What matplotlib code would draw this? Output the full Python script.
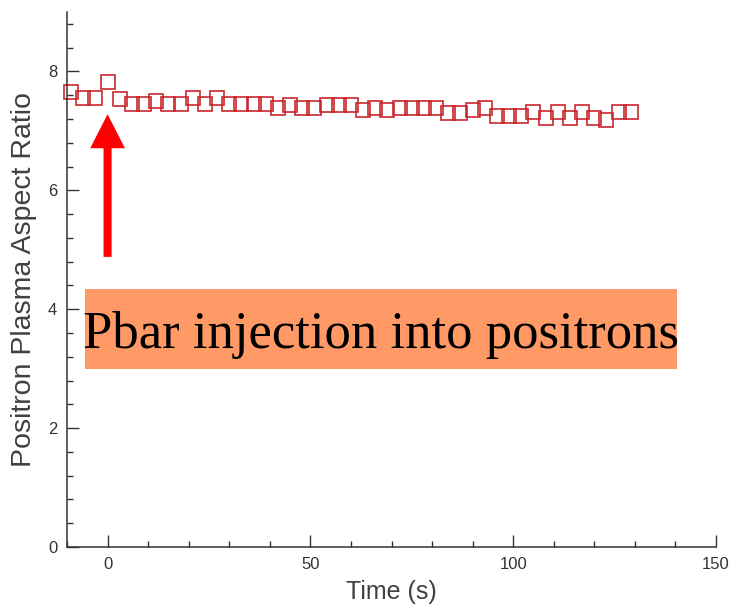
import matplotlib
matplotlib.use("Agg")
import matplotlib.pyplot as plt
from matplotlib.patches import Rectangle
from matplotlib.ticker import MultipleLocator

time_s = [-9, -6, -3, 0, 3, 6, 9, 12, 15, 18, 21, 24, 27, 30, 33, 36, 39, 42,
          45, 48, 51, 54, 57, 60, 63, 66, 69, 72, 75, 78, 81, 84, 87, 90, 93,
          96, 99, 102, 105, 108, 111, 114, 117, 120, 123, 126, 129]
aspect_ratio = [7.65, 7.55, 7.55, 7.82, 7.54, 7.45, 7.45, 7.50, 7.45, 7.45,
                7.55, 7.45, 7.55, 7.45, 7.45, 7.45, 7.45, 7.38, 7.43, 7.38,
                7.38, 7.43, 7.43, 7.43, 7.35, 7.38, 7.35, 7.38, 7.38, 7.38,
                7.38, 7.30, 7.30, 7.35, 7.38, 7.25, 7.25, 7.25, 7.31, 7.22,
                7.31, 7.22, 7.31, 7.22, 7.18, 7.31, 7.31]

label_text = "Pbar injection into positrons"
axis_col = "#333333"

fig = plt.figure(figsize=(7.34, 6.13), dpi=100)
ax = fig.add_axes([0.0913, 0.1077, 0.8842, 0.8728])

ax.plot(time_s, aspect_ratio, linestyle="none", marker="s", markersize=10.2,
        markerfacecolor="none", markeredgecolor="#c8282d", markeredgewidth=1.2,
        clip_on=False)

ax.set_xlim(-10, 150)
ax.set_ylim(0, 9)
ax.xaxis.set_major_locator(MultipleLocator(50))
ax.xaxis.set_minor_locator(MultipleLocator(10))
ax.yaxis.set_major_locator(MultipleLocator(2))
ax.yaxis.set_minor_locator(MultipleLocator(0.4))

for side in ["top", "right"]:
    ax.spines[side].set_visible(False)
for side in ["left", "bottom"]:
    ax.spines[side].set_color(axis_col)
    ax.spines[side].set_linewidth(1.1)

ax.tick_params(which="major", direction="in", length=8.5, width=1.0,
               color=axis_col, pad=7, labelsize=12, labelcolor=axis_col)
ax.tick_params(which="minor", direction="in", length=4.5, width=1.0,
               color=axis_col)
for lab in ax.get_xticklabels() + ax.get_yticklabels():
    lab.set_family("Liberation Sans")

ax.set_xlabel("Time (s)", fontsize=18, color="#404040",
              family="Liberation Sans", labelpad=6)
ax.set_ylabel("Positron Plasma Aspect Ratio", fontsize=20.5, color="#404040",
              family="Liberation Sans", labelpad=8)

# red arrow marking the injection time
ax.annotate("", xy=(0, 7.28), xytext=(0, 4.88),
            arrowprops=dict(arrowstyle="simple,head_length=24.5,head_width=25,tail_width=5.8",
                            mutation_scale=1, color="#ff0000", lw=0,
                            shrinkA=0, shrinkB=0))

# orange label box
fig.patches.append(Rectangle((85 / 734, 1 - 369 / 613), 592 / 734, 80 / 613,
                             transform=fig.transFigure, facecolor="#ff9966",
                             edgecolor="none", zorder=3))
fig.text(83 / 734, 1 - 348 / 613, label_text, fontsize=38,
         family="Liberation Serif", color="black", ha="left",
         va="baseline", zorder=4)

fig.savefig("out.png", dpi=100)
